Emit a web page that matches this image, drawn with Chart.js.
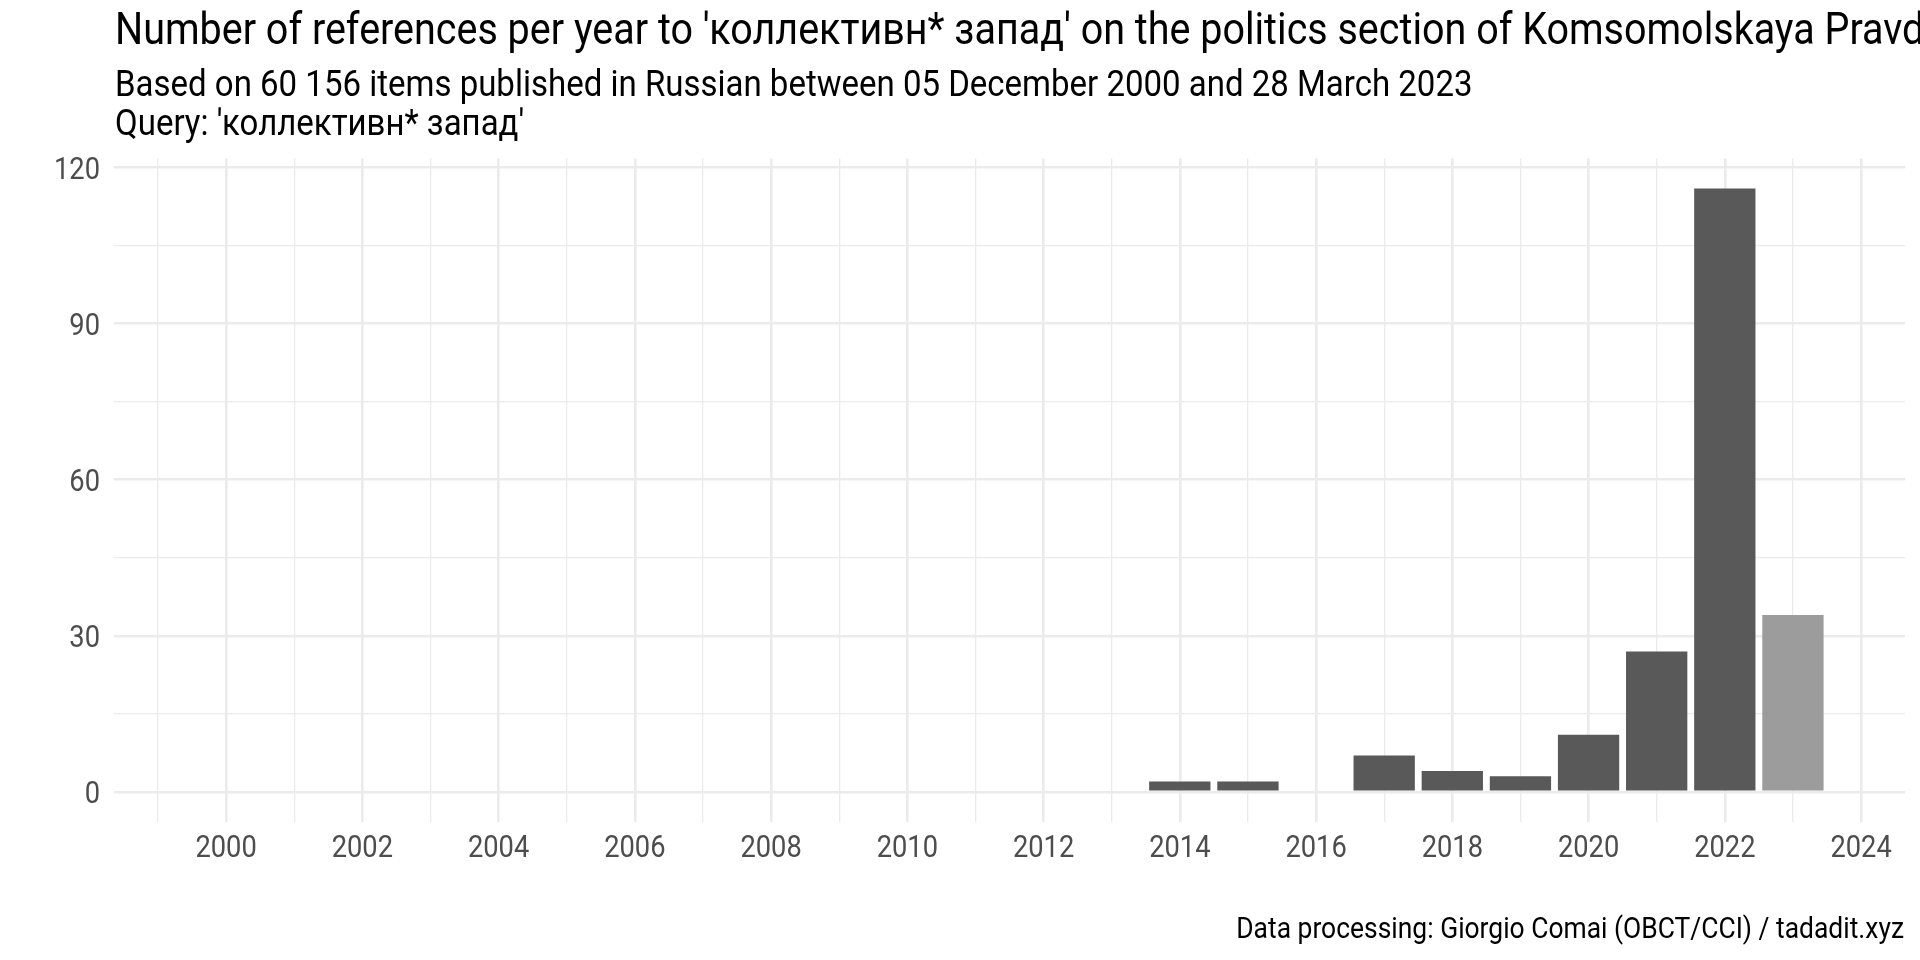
<!DOCTYPE html>
<html lang="en">
<head>
    <meta charset="UTF-8">
    <title>коллективн* запад - Komsomolskaya Pravda</title>
    <script src="https://cdn.jsdelivr.net/npm/chart.js"></script>
    <style>
        html, body { margin: 0; background: #fff; }
        #wrap { width: 1920px; height: 960px; }
    </style>
</head>
<body>
    <div id="wrap"><canvas id="myChart"></canvas></div>

    <script>
        // data
        const years = [2000, 2001, 2002, 2003, 2004, 2005, 2006, 2007, 2008, 2009, 2010, 2011,
                       2012, 2013, 2014, 2015, 2016, 2017, 2018, 2019, 2020, 2021, 2022, 2023]
        const counts = [0, 0, 0, 0, 0, 0, 0, 0, 0, 0, 0, 0,
                        0, 0, 2, 2, 0, 7, 4, 3, 11, 27, 116, 34]
        const partialYears = [2023]   // incomplete year, shown lighter

        const xGridYears = [1999, 2000, 2001, 2002, 2003, 2004, 2005, 2006, 2007, 2008, 2009, 2010, 2011,
                            2012, 2013, 2014, 2015, 2016, 2017, 2018, 2019, 2020, 2021, 2022, 2023, 2024]
        const xLabelYears = [2000, 2002, 2004, 2006, 2008, 2010, 2012, 2014, 2016, 2018, 2020, 2022, 2024]
        const yGridValues = [0, 15, 30, 45, 60, 75, 90, 105, 120]
        const yLabelValues = [0, 30, 60, 90, 120]

        const titleText = "Number of references per year to 'коллективн* запад' on the politics section of Komsomolskaya Pravda"
        const subtitleLines = [
            'Based on 60 156 items published in Russian between 05 December 2000 and 28 March 2023',
            "Query: 'коллективн* запад'"
        ]
        const captionText = 'Data processing: Giorgio Comai (OBCT/CCI) / tadadit.xyz'

        const fontFamily = 'Roboto, "Noto Sans", sans-serif'
        const squeeze = 0.88    // no Roboto Condensed here, so Roboto is narrowed by hand
        const gridColor = '#ebebeb'
        const tickColor = '#4d4d4d'
        const tickSize = 31

        // font size so that a piece of text, once narrowed, has a given width
        function fitSize(ctx, text, width) {
            ctx.font = '100px ' + fontFamily
            return 100 * width / (ctx.measureText(text).width * squeeze)
        }

        function narrowText(ctx, text, x, y, size, align) {
            ctx.save()
            ctx.font = size.toFixed(2) + 'px ' + fontFamily
            ctx.textAlign = align
            ctx.textBaseline = 'alphabetic'
            ctx.translate(x, y)
            ctx.scale(squeeze, 1)
            ctx.fillText(text, 0, 0)
            ctx.restore()
        }

        const textLayer = {
            id: 'textLayer',
            afterDraw(chart) {
                const ctx = chart.ctx
                const xs = chart.scales.x
                const ys = chart.scales.y
                const left = 115
                ctx.save()

                // tick labels, placed with the chart's own scales
                ctx.fillStyle = tickColor
                xLabelYears.forEach(v => {
                    narrowText(ctx, String(v), xs.getPixelForValue(v), 846 + 0.355 * tickSize, tickSize, 'center')
                })
                yLabelValues.forEach(v => {
                    narrowText(ctx, String(v), 100, ys.getPixelForValue(v) + 0.355 * tickSize, tickSize, 'right')
                })

                // title, subtitle and caption
                ctx.fillStyle = '#000'
                let size = fitSize(ctx, "Number of references per year to 'коллективн* запад' on the politics section of Komsomolskaya", 1700)
                narrowText(ctx, titleText, left, 44, size, 'left')

                size = fitSize(ctx, subtitleLines[0], 1358)
                narrowText(ctx, subtitleLines[0], left, 96, size, 'left')
                narrowText(ctx, subtitleLines[1], left, 135, size, 'left')

                size = fitSize(ctx, captionText, 668)
                narrowText(ctx, captionText, 1904, 938, size, 'right')
                ctx.restore()
            }
        }

        const ctx = document.getElementById('myChart')

        let grafico = new Chart(ctx, {
            type: 'bar',
            data: {
                datasets: [{
                    data: years.map((y, i) => ({ x: y, y: counts[i] })),
                    backgroundColor: years.map(y => partialYears.includes(y) ? '#9c9c9c' : '#595959'),
                    borderWidth: 0,
                    barPercentage: 0.9,
                    categoryPercentage: 1.0
                }]
            },
            options: {
                responsive: true,
                maintainAspectRatio: false,
                animation: false,
                layout: { padding: { top: 158.4, left: 0, right: 15, bottom: 0 } },
                plugins: {
                    legend: { display: false },
                    tooltip: { enabled: false },
                    title: { display: false }
                },
                scales: {
                    x: {
                        type: 'linear',
                        min: 1998.355,
                        max: 2024.645,
                        offset: false,
                        afterBuildTicks: axis => { axis.ticks = xGridYears.map(v => ({ value: v })) },
                        afterFit: axis => { axis.height = 138 },
                        border: { display: false },
                        grid: {
                            offset: false,
                            drawTicks: false,
                            color: gridColor,
                            lineWidth: c => xLabelYears.includes(c.tick && c.tick.value) ? 2.6 : 1.3
                        },
                        ticks: { display: false }
                    },
                    y: {
                        min: -5.8,
                        max: 121.8,
                        afterBuildTicks: axis => { axis.ticks = yGridValues.map(v => ({ value: v })) },
                        afterFit: axis => { axis.width = 114 },
                        border: { display: false },
                        grid: {
                            drawTicks: false,
                            color: gridColor,
                            lineWidth: c => yLabelValues.includes(c.tick && c.tick.value) ? 2.6 : 1.3
                        },
                        ticks: { display: false }
                    }
                }
            },
            plugins: [textLayer]
        });
    </script>
</body>
</html>
